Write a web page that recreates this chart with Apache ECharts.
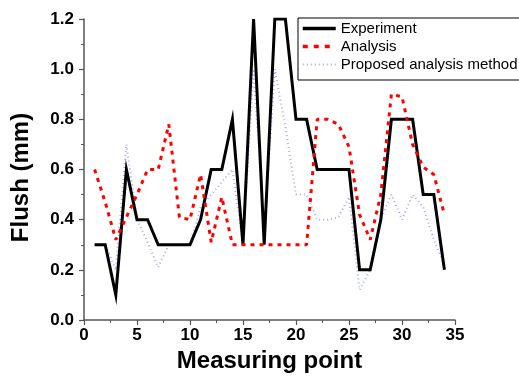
<!DOCTYPE html>
<html>
<head>
<meta charset="utf-8">
<script src="https://cdn.jsdelivr.net/npm/echarts@6/dist/echarts.min.js"></script>
<style>
html,body{margin:0;padding:0;background:#fff;}
#chart{width:519px;height:380px;}
</style>
</head>
<body>
<div id="chart"></div>
<script>
var measuringPoints = [1,2,3,4,5,6,7,8,9,10,11,12,13,14,15,16,17,18,19,20,21,22,23,24,25,26,27,28,29,30,31,32,33,34];
var experiment = [0.3,0.3,0.1,0.6,0.4,0.4,0.3,0.3,0.3,0.3,0.4,0.6,0.6,0.8,0.3,1.2,0.3,1.2,1.2,0.8,0.8,0.6,0.6,0.6,0.6,0.2,0.2,0.4,0.8,0.8,0.8,0.5,0.5,0.2];
var analysis = [0.6,0.47,0.32,0.41,0.5,0.6,0.6,0.78,0.41,0.4,0.58,0.31,0.49,0.3,0.3,0.3,0.3,0.3,0.3,0.3,0.3,0.8,0.8,0.78,0.69,0.42,0.32,0.5,0.9,0.89,0.7,0.61,0.58,0.42];
var proposed = [0.3,0.3,0.2,0.7,0.4,0.31,0.21,0.3,0.3,0.3,0.45,0.5,0.55,0.6,0.3,1.0,0.35,1.0,0.77,0.5,0.5,0.4,0.4,0.41,0.49,0.12,0.2,0.4,0.5,0.4,0.5,0.45,0.32,0.22];
var seriesNames = ['Experiment','Analysis','Proposed analysis method'];

function pairs(vals){ return measuringPoints.map(function(x,i){ return [x, vals[i]]; }); }

var FONT = '"Liberation Sans", Arial, sans-serif';
var chart = echarts.init(document.getElementById('chart'), null, {renderer:'canvas'});
chart.setOption({
  animation:false,
  backgroundColor:'#fff',
  grid:{left:84, top:19, width:371, height:301, containLabel:false},
  legend:{
    orient:'vertical', left:298, top:18,
    data:[
      {name:seriesNames[0], lineStyle:{color:'#000', width:3.5, type:'solid'}},
      {name:seriesNames[1], lineStyle:{color:'#ff0000', width:3.5, type:[5,6]}},
      {name:seriesNames[2], lineStyle:{color:'#a8a8f8', width:2, type:[1,3]}}
    ],
    itemWidth:33, itemHeight:14, itemGap:3,
    padding:[3,40,8,3],
    borderColor:'#000', borderWidth:1, borderRadius:0,
    backgroundColor:'#fff',
    itemStyle:{opacity:0},
    textStyle:{fontFamily:FONT, fontSize:15, color:'#000'}
  },
  xAxis:{
    type:'value', min:0, max:35, interval:5,
    name:'Measuring point', nameLocation:'middle', nameGap:23,
    nameTextStyle:{fontFamily:FONT, fontSize:24, fontWeight:'bold', color:'#000'},
    axisLine:{show:true, onZero:false, lineStyle:{color:'#555', width:1.5}},
    axisTick:{show:true, inside:false, length:5, lineStyle:{color:'#555', width:1.2}},
    minorTick:{show:true, splitNumber:2, length:3, lineStyle:{color:'#555', width:1}},
    axisLabel:{fontFamily:FONT, fontSize:17, fontWeight:'bold', color:'#000', margin:7},
    splitLine:{show:false}
  },
  yAxis:{
    type:'value', min:0, max:1.2, interval:0.2,
    name:'Flush (mm)', nameLocation:'middle', nameGap:51,
    nameTextStyle:{fontFamily:FONT, fontSize:24, fontWeight:'bold', color:'#000', padding:[0,16,0,0]},
    axisLine:{show:true, onZero:false, lineStyle:{color:'#555', width:1.5}},
    axisTick:{show:true, inside:false, length:5, lineStyle:{color:'#555', width:1.2}},
    minorTick:{show:true, splitNumber:2, length:3, lineStyle:{color:'#555', width:1}},
    axisLabel:{fontFamily:FONT, fontSize:17, fontWeight:'bold', color:'#000', margin:10,
      formatter:function(v){ return v.toFixed(1); }},
    splitLine:{show:false}
  },
  series:[
    {name:seriesNames[0], type:'line', data:pairs(experiment), symbol:'none', z:3,
     clip:true, color:'#000', lineStyle:{color:'#000', width:3, join:'miter'}},
    {name:seriesNames[1], type:'line', data:pairs(analysis), symbol:'none', z:4,
     clip:true, color:'#ff0000', lineStyle:{color:'#ff0000', width:3, type:[4,5]}},
    {name:seriesNames[2], type:'line', data:pairs(proposed), symbol:'none', z:2,
     clip:true, color:'#a8a8f8', lineStyle:{color:'#a8a8f8', width:2, type:[1,3]}}
  ]
});
</script>
</body>
</html>
